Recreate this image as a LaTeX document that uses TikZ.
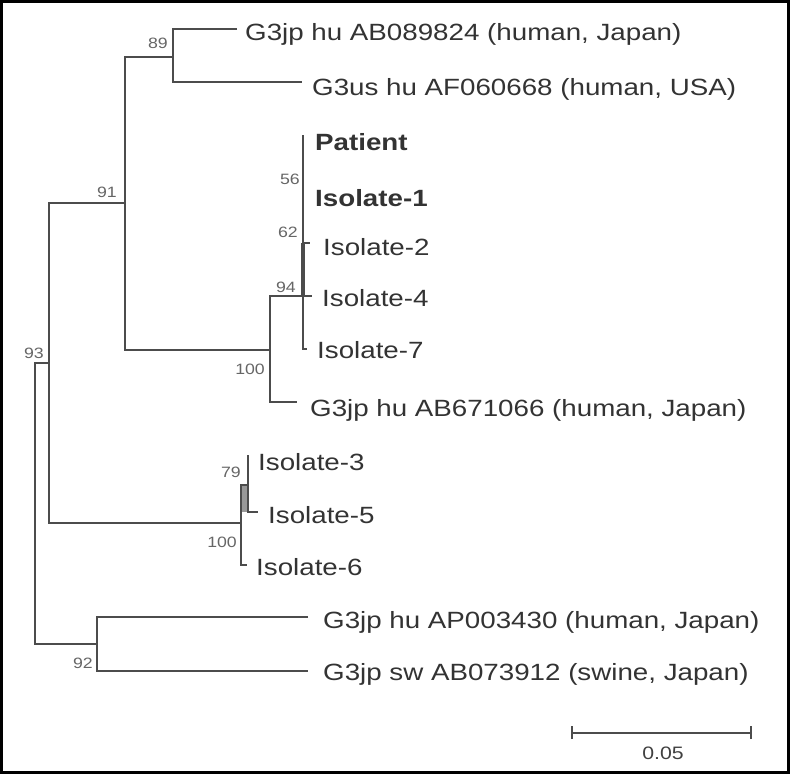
\documentclass[tikz,border=0pt]{standalone}
\usepackage{fontspec}
\setmainfont{Liberation Sans}[FakeStretch=1.18]
\begin{document}
\begin{tikzpicture}[x=1pt,y=-1pt,
  branch/.style={line width=2.4pt, draw=black!70, line join=miter},
  leaflabel/.style={anchor=base west, inner sep=0pt, text=black!80, font=\fontsize{23.5}{27}\selectfont},
  boldlabel/.style={leaflabel, font=\fontsize{23.5}{27}\selectfont\bfseries},
  boot/.style={anchor=base east, inner sep=0pt, text=black!60, font=\fontsize{15}{18}\selectfont}]
\useasboundingbox (0,0) rectangle (790,774);
\fill[white] (0,0) rectangle (790,774);
\draw[line width=3pt, black] (1.5,1.5) rectangle (788.5,772.5);

% internal nodes
\coordinate (R) at (35,503);
\coordinate (A) at (49,363);
\coordinate (B) at (125,203);
\coordinate (C) at (173,57);
\coordinate (D) at (270,350);
\coordinate (E) at (303,296);
\coordinate (F) at (241,523);
\coordinate (F79) at (248,485);
\coordinate (G) at (97,644);
% leaf tips
\coordinate (t1) at (237,29);
\coordinate (t2) at (302,82);
\coordinate (tPat) at (303,135);
\coordinate (tI2) at (310,243);
\coordinate (tI4) at (312,296);
\coordinate (tI7) at (307,349);
\coordinate (E2) at (303,243);
\coordinate (E7) at (303,349);
\coordinate (t3) at (297,402);
\coordinate (tI3) at (248,455);
\coordinate (tI5) at (258,512);
\coordinate (tI6) at (247,565);
\coordinate (t7) at (308,617);
\coordinate (t8) at (308,671);

% gray shading between F and node 79
\fill[black!40] (242,485) rectangle (247,512);

% branches
\draw[branch] (A) -| (R) |- (G);
\draw[branch] (B) -| (A) |- (F);
\draw[branch] (C) -| (B) |- (D);
\draw[branch] (t1) -| (C) |- (t2);
\draw[branch] (E) -| (D) |- (t3);
\draw[branch] (tPat) -- (E7) -- (tI7);
\draw[branch] (E2) -- (tI2);
\draw[branch] (E) -- (tI4);
\draw[branch, line width=3.4pt] (E2) -- (E);
\draw[branch] (F79) -| (F) |- (tI6);
\draw[branch] (tI3) -- (F79) |- (tI5);
\draw[branch] (t7) -| (G) |- (t8);

% leaf labels
\node[leaflabel] (l1) at (245,40) {G3jp hu AB089824 (human, Japan)};
\node[leaflabel] (l2) at (312,95) {G3us hu AF060668 (human, USA)};
\node[boldlabel] (lPat) at (315,150) {Patient};
\node[boldlabel] (lI1) at (315,206) {Isolate-1};
\node[leaflabel] (lI2) at (323,255) {Isolate-2};
\node[leaflabel] (lI4) at (322,306) {Isolate-4};
\node[leaflabel] (lI7) at (317,358) {Isolate-7};
\node[leaflabel] (l3) at (310,416) {G3jp hu AB671066 (human, Japan)};
\node[leaflabel] (lI3) at (258,470) {Isolate-3};
\node[leaflabel] (lI5) at (268,523) {Isolate-5};
\node[leaflabel] (lI6) at (256,575) {Isolate-6};
\node[leaflabel] (l4) at (323,628) {G3jp hu AP003430 (human, Japan)};
\node[leaflabel] (l5) at (323,680) {G3jp sw AB073912 (swine, Japan)};

% bootstrap values
\node[boot] (b89) at (168,48) {89};
\node[boot] (b91) at (117,197) {91};
\node[boot] (b93) at (44,358) {93};
\node[boot] (b56) at (300,184) {56};
\node[boot] (b62) at (298,237) {62};
\node[boot] (b94) at (296,292) {94};
\node[boot] (b100a) at (265,374) {100};
\node[boot] (b79) at (241,477) {79};
\node[boot] (b100b) at (237,547) {100};
\node[boot] (b92) at (93,668) {92};

% scale bar
\coordinate (s1) at (572,733);
\coordinate (s2) at (751,733);
\draw[branch] (s1) -- (s2);
\draw[branch] ([yshift=-6pt]s1) -- ([yshift=7pt]s1);
\draw[branch] ([yshift=-6pt]s2) -- ([yshift=7pt]s2);
\node[anchor=base, inner sep=0pt, text=black!75, font=\fontsize{18}{21}\selectfont] (scale) at (663,759) {0.05};
\end{tikzpicture}
\end{document}
